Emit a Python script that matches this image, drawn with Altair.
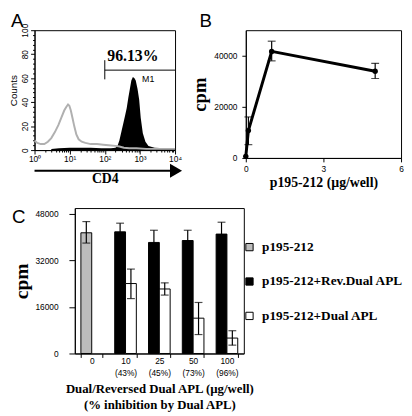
import altair as alt
import pandas as pd

SANS = "Liberation Sans"
SERIF = "Liberation Serif"

# ---------------- Panel A data (flow cytometry histogram) ----------------
grey_x = [1.0, 1.2, 1.5, 1.9, 2.4, 3.0, 3.8, 4.8, 5.8, 7.0, 8.0, 9.0, 9.8, 10.8, 12, 13.5, 15.5, 18, 22, 28,
          40, 60, 90, 130, 200, 260, 350, 500, 800, 1500, 3000, 6000, 10000]
grey_y = [8, 6, 5, 5, 7, 10, 15, 21, 27, 33, 36, 38, 37, 33, 27, 20, 13, 9, 7, 6,
          5, 5, 4.5, 4, 3.5, 3, 2, 1.5, 1.5, 1, 1, 1, 1]
black_x = [3, 5, 10, 20, 40, 80, 150, 200, 227, 260, 300, 341, 380, 420, 470, 517, 570, 631, 700, 760,
           856, 953, 1054, 1210, 1436, 1750, 2630, 5000, 10000]
black_y = [1, 1.5, 2, 2, 2, 1.5, 1.5, 2, 3, 8, 16, 23, 29, 35, 44, 51, 58, 61, 60, 58,
           51, 42, 27, 14, 7, 3.5, 2, 1.5, 1]
marker_x = [100]
marker_x2 = [10000]
marker_y = [66.7]
marker_tick_lo = [59]
marker_tick_hi = [75]
pct_text = ["96.13%"]
pct_x = [630]
pct_y = [78]
m1_text = ["M1"]
m1_x = [1150]
m1_y = [59]
A_major = [1, 10, 100, 1000, 10000]
A_sup = ["⁰", "¹", "²", "³", "⁴"]
A_ymajor = [0, 20, 40, 60, 80, 100]

# ---------------- Panel B data ----------------
b_x = [0, 0.1, 1, 5]
b_y = [620, 10700, 41700, 33950]
b_lo = [620, 5200, 38000, 31100]
b_hi = [620, 16050, 45700, 37050]
b_xticks = [0, 1.5, 3, 4.5, 6]
b_yticks = [0, 10000, 20000, 30000, 40000, 50000]

# ---------------- Panel C data ----------------
c_cats = ["0", "10", "25", "50", "100"]
c_pcts = ["", "(43%)", "(45%)", "(73%)", "(96%)"]
c_series = ["p195-212", "p195-212+Rev.Dual APL", "p195-212+Dual APL"]
c_colors = ["#bcbcbc", "black", "white"]
c_ctrl_val = [41500]
c_ctrl_lo = [37960]
c_ctrl_hi = [45350]
c_rev_val = [41820, 38180, 38840, 41050]
c_rev_lo = [38800, 34000, 35300, 37000]
c_rev_hi = [44800, 42370, 42370, 45130]
c_dual_val = [24050, 22180, 12140, 5300]
c_dual_lo = [18870, 20080, 6510, 2870]
c_dual_hi = [29020, 24280, 17540, 7830]
c_yticks = [0, 8000, 16000, 24000, 32000, 40000, 48000]

LBL = 8.5  # tick label font size

# ================= Panel A =================
WA, HA = 143, 122
dfAg = pd.DataFrame({"x": grey_x, "y": grey_y})
dfAb = pd.DataFrame({"x": black_x, "y": black_y})
xminorA = [m * d for d in A_major[:-1] for m in range(2, 10)]
yminorA = [v for v in range(0, 101, 4) if v not in A_ymajor]
sup_arr = "[" + ",".join("'" + s + "'" for s in A_sup) + "]"
xA = alt.Scale(type="log", domain=[1, 10000])
yA = alt.Scale(domain=[0, 100])
axA_x = alt.Axis(values=A_major, labelExpr="'10' + " + sup_arr + "[round(log(datum.value)/LN10)]",
                 orient="bottom", tickSize=4, labelOverlap=False, labelFlush=False, labelFont=SANS,
                 labelFontSize=LBL, labelPadding=1,
                 title="CD4", titleFont=SERIF, titleFontWeight="bold", titleFontSize=14, titlePadding=9,
                 grid=False)
axA_y = alt.Axis(values=A_ymajor, orient="left", tickSize=4, labelOverlap=False, labelAngle=270,
                 labelAlign="center", labelBaseline="bottom", labelFont=SANS, labelFontSize=LBL, labelPadding=1,
                 title="Counts", titleFont=SANS, titleFontSize=10, titleFontWeight="normal", titlePadding=2,
                 grid=False)
axA_xm = alt.Axis(values=xminorA, orient="bottom", tickSize=2, labels=False, domain=False, title=None, grid=False)
axA_ym = alt.Axis(values=yminorA, orient="left", tickSize=2, labels=False, domain=False, title=None, grid=False)

a_black = alt.Chart(dfAb).mark_area(color="black", opacity=1).encode(
    x=alt.X("x:Q", scale=xA, axis=axA_x), y=alt.Y("y:Q", scale=yA, axis=axA_y))
a_grey = alt.Chart(dfAg).mark_line(color="#b0b0b0", strokeWidth=2).encode(
    x=alt.X("x:Q", axis=axA_xm), y=alt.Y("y:Q", axis=axA_ym))
a_mark = alt.Chart(pd.DataFrame({"x": marker_x, "x2": marker_x2, "y": marker_y})).mark_rule(
    color="black", strokeWidth=1).encode(x=alt.X("x:Q", axis=None), x2="x2:Q", y=alt.Y("y:Q", axis=None))
a_mtick = alt.Chart(pd.DataFrame({"x": marker_x, "y": marker_tick_lo, "y2": marker_tick_hi})).mark_rule(
    color="black", strokeWidth=1).encode(x=alt.X("x:Q", axis=None), y=alt.Y("y:Q", axis=None), y2="y2:Q")
a_pct = alt.Chart(pd.DataFrame({"x": pct_x, "y": pct_y, "t": pct_text})).mark_text(
    font=SERIF, fontWeight="bold", fontSize=16, color="black").encode(
    x=alt.X("x:Q", axis=None), y=alt.Y("y:Q", axis=None), text="t:N")
a_m1 = alt.Chart(pd.DataFrame({"x": m1_x, "y": m1_y, "t": m1_text})).mark_text(
    font=SANS, fontSize=9, align="left", color="black").encode(
    x=alt.X("x:Q", axis=None), y=alt.Y("y:Q", axis=None), text="t:N")
one = pd.DataFrame({"k": [0]})
a_arrow = alt.Chart(one).mark_rule(color="black", strokeWidth=2).encode(
    x=alt.value(0), x2=alt.value(WA - 4), y=alt.value(HA + 21))
a_head = alt.Chart(one).mark_point(shape="triangle-right", filled=True, color="black", opacity=1, size=200).encode(
    x=alt.value(WA + 1), y=alt.value(HA + 21))
a_letter = alt.Chart(one).mark_text(text="A", font=SANS, fontSize=19, align="left", baseline="alphabetic",
                                    color="black").encode(x=alt.value(-24), y=alt.value(-3))
panelA = alt.layer(a_black, a_grey, a_mark, a_mtick, a_pct, a_m1, a_arrow, a_head, a_letter).resolve_axis(
    x="independent", y="independent").properties(width=WA, height=HA)

# ================= Panel B =================
WB, HB = 158, 130
dfB = pd.DataFrame({"x": b_x, "y": b_y, "lo": b_lo, "hi": b_hi})
xB = alt.Scale(domain=[0, 6])
yB = alt.Scale(domain=[0, 50000])
b_line = alt.Chart(dfB).mark_line(color="black", strokeWidth=3).encode(
    x=alt.X("x:Q", scale=xB, axis=alt.Axis(values=b_xticks, format=".1~f", labelFlush=False, labelOverlap=False,
                                           labelFont=SANS, labelFontSize=LBL, tickSize=4, labelPadding=3,
                                           title="p195-212 (µg/well)", titleFont=SERIF, titleFontWeight="bold",
                                           titleFontSize=14, titlePadding=3, grid=False)),
    y=alt.Y("y:Q", scale=yB, axis=alt.Axis(values=b_yticks, format="d", labelFont=SANS, labelFontSize=LBL,
                                           tickSize=4, labelPadding=5, title="cpm", titleFont=SERIF,
                                           titleFontWeight="bold", titleFontSize=19, titlePadding=4, grid=False)))
b_pts = alt.Chart(dfB).mark_point(filled=True, color="black", opacity=1, size=30).encode(x="x:Q", y="y:Q")
b_err = alt.Chart(dfB.iloc[1:]).mark_errorbar(ticks=True, size=8, thickness=1.2, color="black").encode(
    x="x:Q", y=alt.Y("lo:Q", title="cpm"), y2="hi:Q")
b_letter = alt.Chart(one).mark_text(text="B", font=SANS, fontSize=19, align="left", baseline="alphabetic",
                                    color="black").encode(x=alt.value(-47), y=alt.value(-3))
panelB = alt.layer(b_line, b_err, b_pts, b_letter).properties(width=WB, height=HB)

# ================= Panel C =================
WC, HC = 172, 148
rows = []
rows.append({"cat": c_cats[0], "series": c_series[0], "slot": "a", "val": c_ctrl_val[0],
             "lo": c_ctrl_lo[0], "hi": c_ctrl_hi[0]})
for i in range(4):
    rows.append({"cat": c_cats[i + 1], "series": c_series[1], "slot": "a", "val": c_rev_val[i],
                 "lo": c_rev_lo[i], "hi": c_rev_hi[i]})
    rows.append({"cat": c_cats[i + 1], "series": c_series[2], "slot": "b", "val": c_dual_val[i],
                 "lo": c_dual_lo[i], "hi": c_dual_hi[i]})
dfC = pd.DataFrame(rows)

cat_arr = "[" + ",".join("'" + c + "'" for c in c_cats) + "]"
lab_arr = "[" + ",".join("['" + c + "','" + p + "']" for c, p in zip(c_cats, c_pcts)) + "]"
xC = alt.Scale(domain=c_cats, paddingInner=0.36, paddingOuter=0.18)
xoC = alt.Scale(domain=["a", "b"], paddingInner=0, paddingOuter=0)
yC = alt.Scale(domain=[0, 48000])
axC_x = alt.Axis(labelExpr=lab_arr + "[indexof(" + cat_arr + ", datum.value)]", labelAngle=0,
                 labelFont=SANS, labelFontSize=LBL, labelLineHeight=12, labelPadding=-1,
                 tickBand="extent", tickSize=4,
                 title=["Dual/Reversed Dual APL (µg/well)", "(% inhibition by Dual APL)"],
                 titleFont=SERIF, titleFontWeight="bold", titleFontSize=13, titleLineHeight=16,
                 titlePadding=6, grid=False)
axC_y = alt.Axis(values=c_yticks, format="d", labelFont=SANS, labelFontSize=LBL, tickSize=6, labelPadding=11,
                 title="cpm", titleFont=SERIF, titleFontWeight="bold", titleFontSize=20, titlePadding=4,
                 grid=False)
c_bars = alt.Chart(dfC).mark_bar(stroke="black", strokeWidth=1).encode(
    x=alt.X("cat:N", sort=c_cats, scale=xC, axis=axC_x),
    xOffset=alt.XOffset("slot:N", scale=xoC),
    y=alt.Y("val:Q", scale=yC, axis=axC_y),
    color=alt.Color("series:N", scale=alt.Scale(domain=c_series, range=c_colors),
                    legend=alt.Legend(title=None, orient="none", legendX=171, legendY=33,
                                      symbolType="square", symbolSize=55, symbolStrokeColor="black",
                                      symbolStrokeWidth=1, labelFont=SERIF, labelFontWeight="bold",
                                      labelFontSize=13.5, labelOffset=6, rowPadding=20, labelLimit=200)))
c_rule = alt.Chart(dfC).mark_rule(color="black", strokeWidth=1.2).encode(
    x=alt.X("cat:N", sort=c_cats), xOffset="slot:N", y="lo:Q", y2="hi:Q")
c_cap_hi = alt.Chart(dfC).mark_tick(color="black", thickness=1.2, size=8).encode(
    x=alt.X("cat:N", sort=c_cats), xOffset="slot:N", y="hi:Q")
c_cap_lo = alt.Chart(dfC).mark_tick(color="black", thickness=1.2, size=8).encode(
    x=alt.X("cat:N", sort=c_cats), xOffset="slot:N", y="lo:Q")
c_letter = alt.Chart(one).mark_text(text="C", font=SANS, fontSize=19, align="left", baseline="alphabetic",
                                    color="black").encode(x=alt.value(-64), y=alt.value(15))
panelC = alt.layer(c_bars, c_rule, c_cap_hi, c_cap_lo, c_letter).properties(width=WC, height=HC)

spacer = alt.Chart(one).mark_point(opacity=0).encode(
    x=alt.X("k:Q", axis=None), y=alt.Y("k:Q", axis=None)).properties(
    width=41, height=1, view=alt.ViewBackground(strokeOpacity=0))

top = alt.hconcat(panelA, panelB, spacing=72, bounds="flush").resolve_scale(color="independent")
bottom = alt.hconcat(spacer, panelC, spacing=0, bounds="flush").resolve_scale(
    color="independent").resolve_legend(color="independent")
chart = alt.vconcat(top, bottom, spacing=15).resolve_scale(color="independent").resolve_legend(
    color="independent").properties(padding=0).configure_view(
    stroke="black", strokeWidth=1).configure_axis(
    domainColor="black", tickColor="black", labelColor="black", titleColor="black", grid=False)

chart.save("out.html", embed_options={"renderer": "svg", "actions": False})
